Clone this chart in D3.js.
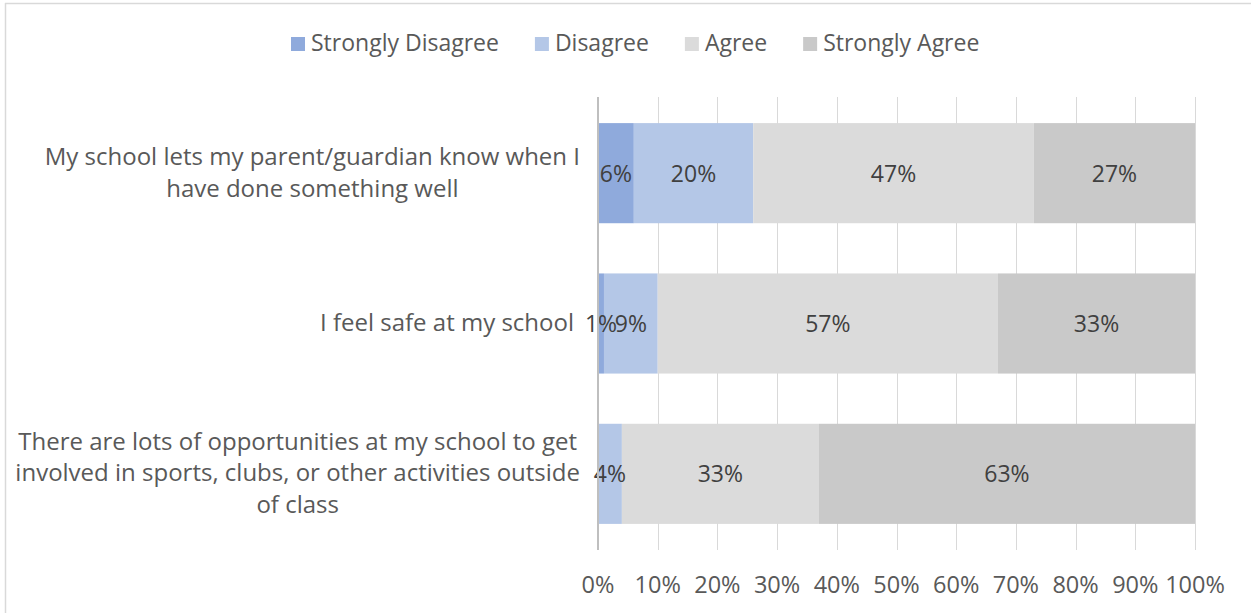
<!DOCTYPE html>
<html>
<head>
<meta charset="utf-8">
<script src="https://cdn.jsdelivr.net/npm/d3@7"></script>
<style>
  html, body { margin: 0; padding: 0; background: #fff; }
  svg { display: block; font-family: "Open Sans", Lato, sans-serif; }
</style>
</head>
<body>
<svg id="chart" width="1251" height="613"></svg>
<script>
// Survey statements (top to bottom) and response shares, in percent
const categories = [
  "My school lets my parent/guardian know when I|have done something well",
  "I feel safe at my school",
  "There are lots of opportunities at my school to get|involved in sports, clubs, or other activities outside|of class"
];
const seriesNames = ["Strongly Disagree", "Disagree", "Agree", "Strongly Agree"];
const stronglyDisagree = [6, 1, 0];
const disagree = [20, 9, 4];
const agree = [47, 57, 33];
const stronglyAgree = [27, 33, 63];
const tickValues = [0, 10, 20, 30, 40, 50, 60, 70, 80, 90, 100];

const colors = ["#8faadc", "#b4c7e7", "#dbdbdb", "#c9c9c9"];

const rows = categories.map((c, i) => ({
  label: c,
  "Strongly Disagree": stronglyDisagree[i],
  "Disagree": disagree[i],
  "Agree": agree[i],
  "Strongly Agree": stronglyAgree[i]
}));

const svg = d3.select("#chart");
const W = 1251, H = 613;

// Outer frame
svg.append("line").attr("x1", 5.5).attr("x2", 5.5).attr("y1", 3).attr("y2", H)
  .attr("stroke", "#d9d9d9").attr("stroke-width", 1.5);
svg.append("line").attr("x1", 5).attr("x2", W).attr("y1", 3.5).attr("y2", 3.5)
  .attr("stroke", "#d9d9d9").attr("stroke-width", 1.5);

const plot = { left: 598, right: 1195, top: 97, bottom: 550 };

const x = d3.scaleLinear().domain([0, 100]).range([plot.left, plot.right]);
const y = d3.scaleBand().domain(categories).range([plot.top + 1, plot.bottom - 1]).paddingInner(0.334).paddingOuter(0.167);

// Vertical gridlines
svg.append("g").selectAll("line").data(tickValues.slice(1)).join("line")
  .attr("x1", d => Math.round(x(d)) + 0.5).attr("x2", d => Math.round(x(d)) + 0.5)
  .attr("y1", plot.top).attr("y2", plot.bottom)
  .attr("stroke", "#d9d9d9").attr("stroke-width", 1);

// Stacked bars
const stack = d3.stack().keys(seriesNames)(rows);
const layers = svg.append("g").selectAll("g").data(stack).join("g")
  .attr("fill", (d, i) => colors[i]);
layers.selectAll("rect").data(d => d).join("rect")
  .attr("x", d => x(d[0]))
  .attr("width", d => x(d[1]) - x(d[0]))
  .attr("y", d => y(d.data.label))
  .attr("height", y.bandwidth());

// Value labels
const labelG = svg.append("g").attr("font-size", 23).attr("fill", "#404040").attr("text-anchor", "middle");
stack.forEach(layer => {
  layer.forEach(d => {
    const v = d[1] - d[0];
    if (v <= 0) return;
    labelG.append("text")
      .attr("x", (x(d[0]) + x(d[1])) / 2)
      .attr("y", y(d.data.label) + y.bandwidth() / 2 + 8.5)
      .text(v + "%");
  });
});

// Zero axis line
svg.append("line")
  .attr("x1", x(0)).attr("x2", x(0)).attr("y1", plot.top).attr("y2", plot.bottom)
  .attr("stroke", "#bfbfbf").attr("stroke-width", 2);

// X tick labels
svg.append("g").attr("font-size", 23.5).attr("fill", "#595959").attr("text-anchor", "middle")
  .selectAll("text").data(tickValues).join("text")
  .attr("x", d => x(d)).attr("y", 593)
  .text(d => d + "%");

// Category labels: lines centered on each other, block right-aligned
const catG = svg.append("g").attr("font-size", 24).attr("fill", "#595959");
const lineH = 31.7;
categories.forEach(c => {
  const lines = c.split("|");
  const g = catG.append("g");
  const texts = lines.map((t, k) => g.append("text")
    .attr("y", y(c) + y.bandwidth() / 2 + (k - (lines.length - 1) / 2) * lineH + 7.5)
    .attr("text-anchor", "middle").text(t));
  const maxW = d3.max(texts, t => t.node().getComputedTextLength());
  const right = lines.length > 1 ? 580 : 574;
  const cx = right - maxW / 2;
  texts.forEach(t => t.attr("x", cx));
});

// Legend
const legend = svg.append("g").attr("font-size", 23).attr("fill", "#595959");
let lx = 291;
seriesNames.forEach((name, i) => {
  legend.append("rect").attr("x", lx).attr("y", 37).attr("width", 14).attr("height", 14).attr("fill", colors[i]);
  const t = legend.append("text").attr("x", lx + 20).attr("y", 51).text(name);
  lx += 20 + t.node().getComputedTextLength() + 36;
});
</script>
</body>
</html>
